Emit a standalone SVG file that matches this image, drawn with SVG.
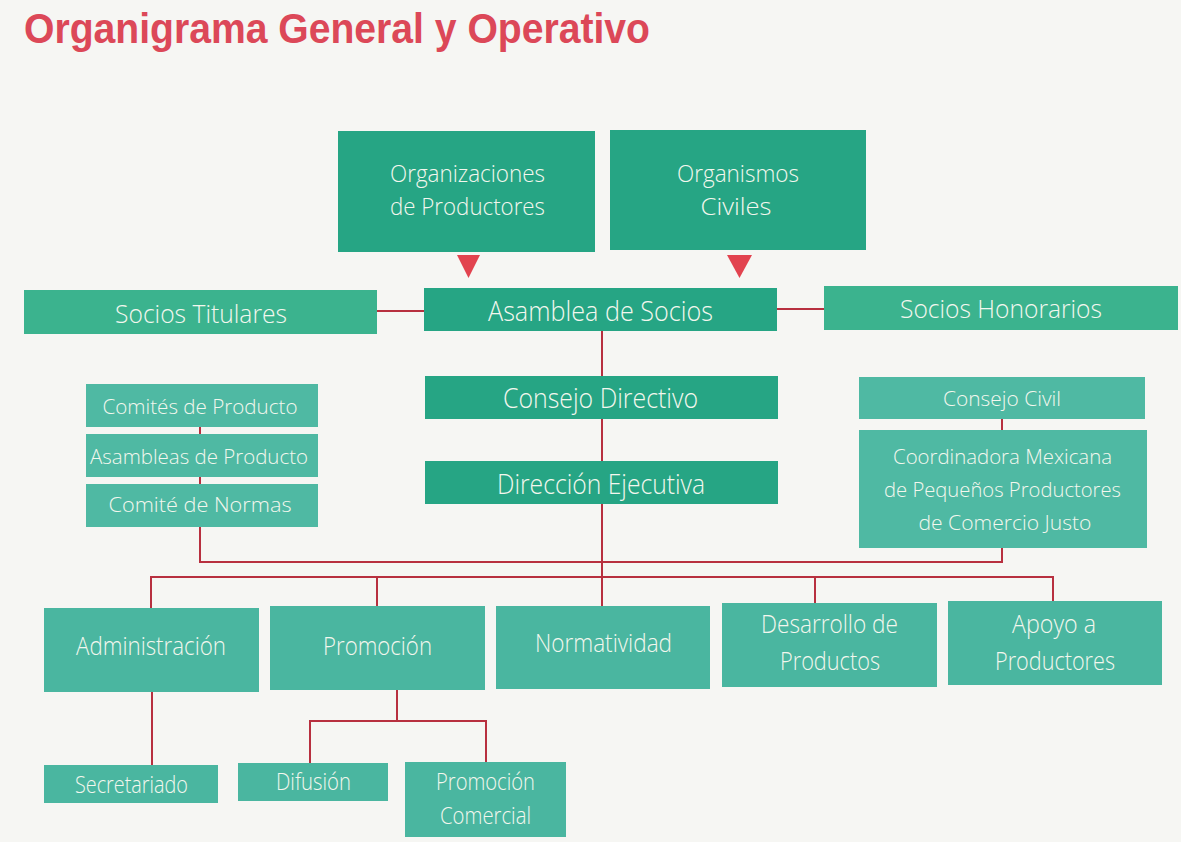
<svg xmlns="http://www.w3.org/2000/svg" width="1181" height="842" viewBox="0 0 1181 842">
  <style>
    .bg { fill: #f6f6f3; }
    .title { font-family: "Liberation Sans", Arial, sans-serif; font-weight: bold; font-size: 42px; fill: #dc4858; }
    .lbl { font-family: "Open Sans", "Liberation Sans", sans-serif; font-weight: 300; fill: #f3f7ee; text-anchor: middle; }
    .l28 { font-size: 28px; }
    .l26 { font-size: 26px; }
    .l25 { font-size: 25px; }
    .l24 { font-size: 24px; }
    .l23 { font-size: 23px; }
    .l21 { font-size: 21px; }
    .dark { fill: #26a584; }
    .mid { fill: #3bb38e; }
    .light { fill: #4fb9a3; }
    .dept { fill: #4ab6a0; }
    .conn { fill: none; stroke: #b8303f; stroke-width: 2; }
    .tri { fill: #e2434f; }
  </style>

  <rect class="bg" x="0" y="0" width="1181" height="842"/>

  <text class="title" x="24" y="43" textLength="626" lengthAdjust="spacingAndGlyphs">Organigrama General y Operativo</text>

  <!-- connectors -->
  <g id="connectors">
    <line class="conn" x1="377" y1="311" x2="424" y2="311"/>
    <line class="conn" x1="777" y1="309" x2="824" y2="309"/>
    <line class="conn" x1="602" y1="331" x2="602" y2="606"/>
    <line class="conn" x1="200" y1="427" x2="200" y2="434"/>
    <line class="conn" x1="200" y1="477" x2="200" y2="484"/>
    <polyline class="conn" points="200,527 200,562 1002,562 1002,548"/>
    <line class="conn" x1="1002" y1="419" x2="1002" y2="430"/>
    <polyline class="conn" points="151,608 151,577 1053,577 1053,601"/>
    <line class="conn" x1="377" y1="577" x2="377" y2="606"/>
    <line class="conn" x1="815" y1="577" x2="815" y2="603"/>
    <line class="conn" x1="152" y1="692" x2="152" y2="765"/>
    <line class="conn" x1="397" y1="690" x2="397" y2="721"/>
    <polyline class="conn" points="310,763 310,721 486,721 486,762"/>
    <polygon class="tri" points="457,255 480,255 468.5,278"/>
    <polygon class="tri" points="727,255 752,255 739.5,278"/>
  </g>

  <g id="org-productores">
    <rect class="dark" x="338" y="131" width="257" height="121"/>
    <text class="lbl l24" x="467.5" y="182" textLength="155" lengthAdjust="spacingAndGlyphs">Organizaciones</text>
    <text class="lbl l24" x="467.5" y="215" textLength="155" lengthAdjust="spacingAndGlyphs">de Productores</text>
  </g>

  <g id="org-civiles">
    <rect class="dark" x="610" y="130" width="256" height="120"/>
    <text class="lbl l24" x="738" y="182" textLength="122" lengthAdjust="spacingAndGlyphs">Organismos</text>
    <text class="lbl l24" x="736" y="215" textLength="71" lengthAdjust="spacingAndGlyphs">Civiles</text>
  </g>

  <g id="socios-titulares">
    <rect class="mid" x="24" y="290" width="353" height="44"/>
    <text class="lbl l26" x="201" y="323" textLength="172" lengthAdjust="spacingAndGlyphs">Socios Titulares</text>
  </g>

  <g id="asamblea-socios">
    <rect class="dark" x="424" y="288" width="353" height="43"/>
    <text class="lbl l28" x="600.5" y="321" textLength="225" lengthAdjust="spacingAndGlyphs">Asamblea de Socios</text>
  </g>

  <g id="socios-honorarios">
    <rect class="mid" x="824" y="286" width="354" height="44"/>
    <text class="lbl l26" x="1001" y="318" textLength="202" lengthAdjust="spacingAndGlyphs">Socios Honorarios</text>
  </g>

  <g id="consejo-directivo">
    <rect class="dark" x="425" y="376" width="353" height="43"/>
    <text class="lbl l28" x="600.5" y="408" textLength="195" lengthAdjust="spacingAndGlyphs">Consejo Directivo</text>
  </g>

  <g id="direccion-ejecutiva">
    <rect class="dark" x="425" y="461" width="353" height="43"/>
    <text class="lbl l28" x="601" y="494" textLength="208" lengthAdjust="spacingAndGlyphs">Dirección Ejecutiva</text>
  </g>

  <g id="comites-producto">
    <rect class="light" x="86" y="384" width="232" height="43"/>
    <text class="lbl l21" x="200" y="414" textLength="195" lengthAdjust="spacingAndGlyphs">Comités de Producto</text>
  </g>

  <g id="asambleas-producto">
    <rect class="light" x="86" y="434" width="232" height="43"/>
    <text class="lbl l21" x="199" y="464" textLength="218" lengthAdjust="spacingAndGlyphs">Asambleas de Producto</text>
  </g>

  <g id="comite-normas">
    <rect class="light" x="86" y="484" width="232" height="43"/>
    <text class="lbl l21" x="200" y="512" textLength="183" lengthAdjust="spacingAndGlyphs">Comité de Normas</text>
  </g>

  <g id="consejo-civil">
    <rect class="light" x="859" y="377" width="286" height="42"/>
    <text class="lbl l21" x="1002" y="406" textLength="118" lengthAdjust="spacingAndGlyphs">Consejo Civil</text>
  </g>

  <g id="coordinadora">
    <rect class="light" x="859" y="430" width="288" height="118"/>
    <text class="lbl l21" x="1002.5" y="464" textLength="219" lengthAdjust="spacingAndGlyphs">Coordinadora Mexicana</text>
    <text class="lbl l21" x="1002.5" y="497" textLength="237" lengthAdjust="spacingAndGlyphs">de Pequeños Productores</text>
    <text class="lbl l21" x="1005" y="530" textLength="173" lengthAdjust="spacingAndGlyphs">de Comercio Justo</text>
  </g>

  <g id="administracion">
    <rect class="dept" x="44" y="608" width="215" height="84"/>
    <text class="lbl l25" x="151" y="655" textLength="150" lengthAdjust="spacingAndGlyphs">Administración</text>
  </g>

  <g id="promocion">
    <rect class="dept" x="270" y="606" width="215" height="84"/>
    <text class="lbl l25" x="377.5" y="655" textLength="109" lengthAdjust="spacingAndGlyphs">Promoción</text>
  </g>

  <g id="normatividad">
    <rect class="dept" x="496" y="606" width="214" height="83"/>
    <text class="lbl l25" x="603.5" y="652" textLength="137" lengthAdjust="spacingAndGlyphs">Normatividad</text>
  </g>

  <g id="desarrollo-productos">
    <rect class="dept" x="722" y="603" width="215" height="84"/>
    <text class="lbl l25" x="829.5" y="633" textLength="137" lengthAdjust="spacingAndGlyphs">Desarrollo de</text>
    <text class="lbl l25" x="830" y="670" textLength="100" lengthAdjust="spacingAndGlyphs">Productos</text>
  </g>

  <g id="apoyo-productores">
    <rect class="dept" x="948" y="601" width="214" height="84"/>
    <text class="lbl l25" x="1054" y="633" textLength="84" lengthAdjust="spacingAndGlyphs">Apoyo a</text>
    <text class="lbl l25" x="1055" y="670" textLength="120" lengthAdjust="spacingAndGlyphs">Productores</text>
  </g>

  <g id="secretariado">
    <rect class="dept" x="44" y="765" width="174" height="38"/>
    <text class="lbl l23" x="131.5" y="793" textLength="113" lengthAdjust="spacingAndGlyphs">Secretariado</text>
  </g>

  <g id="difusion">
    <rect class="dept" x="238" y="763" width="150" height="38"/>
    <text class="lbl l23" x="313.5" y="790" textLength="75" lengthAdjust="spacingAndGlyphs">Difusión</text>
  </g>

  <g id="promocion-comercial">
    <rect class="dept" x="405" y="762" width="161" height="75"/>
    <text class="lbl l23" x="485.5" y="790" textLength="99" lengthAdjust="spacingAndGlyphs">Promoción</text>
    <text class="lbl l23" x="485.5" y="824" textLength="91" lengthAdjust="spacingAndGlyphs">Comercial</text>
  </g>
</svg>
